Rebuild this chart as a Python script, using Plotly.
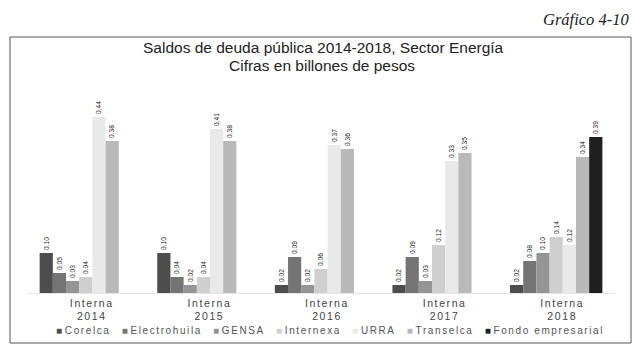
import plotly.graph_objects as go

# Data: public debt balances, energy sector (trillions of pesos)
categories = ["Interna<br>2014", "Interna<br>2015", "Interna<br>2016", "Interna<br>2017", "Interna<br>2018"]
corelca = [0.10, 0.10, 0.02, 0.02, 0.02]
electrohuila = [0.05, 0.04, 0.09, 0.09, 0.08]
gensa = [0.03, 0.02, 0.02, 0.03, 0.10]
internexa = [0.04, 0.04, 0.06, 0.12, 0.14]
urra = [0.44, 0.41, 0.37, 0.33, 0.12]
transelca = [0.38, 0.38, 0.36, 0.35, 0.34]
fondo = [None, None, None, None, 0.39]

series = [
    ("Corelca", corelca, "#4d4d4d"),
    ("Electrohuila", electrohuila, "#747474"),
    ("GENSA", gensa, "#959595"),
    ("Internexa", internexa, "#cfcfcf"),
    ("URRA", urra, "#e9e9e9"),
    ("Transelca", transelca, "#b9b9b9"),
    ("Fondo empresarial", fondo, "#1f1f1f"),
]

W, H = 634, 347
M_L, M_R, M_T, M_B = 27, 19, 80, 54
PW = W - M_L - M_R
PH = H - M_T - M_B
SPACED = "letter-spacing:1.6px"


def px_x(x):
    return (x - M_L) / PW


def px_y(y):
    return (H - M_B - y) / PH


fig = go.Figure()
for name, vals, color in series:
    fig.add_trace(go.Bar(
        name=name,
        x=categories,
        y=vals,
        marker=dict(color=color, line=dict(width=0)),
        text=[f"{v:.2f}" if v is not None else "" for v in vals],
        textposition="outside",
        textangle=-90,
        textfont=dict(family="Liberation Sans, Arial", size=10, color="#222222"),
        cliponaxis=False,
        showlegend=False,
    ))

# Category tick labels with widened letter spacing
ticktext = [
    "<br>".join(f"<span style='{SPACED}'>{part}</span>" for part in c.split("<br>"))
    for c in categories
]

fig.update_layout(
    width=W,
    height=H,
    margin=dict(l=M_L, r=M_R, t=M_T, b=M_B, autoexpand=False),
    paper_bgcolor="white",
    plot_bgcolor="white",
    barmode="group",
    bargap=0.215,
    bargroupgap=0,
    font=dict(family="Liberation Sans, Arial", color="#333333"),
    xaxis=dict(
        showgrid=False,
        zeroline=False,
        showline=True,
        linecolor="#e6e6e6",
        linewidth=1,
        ticks="",
        tickmode="array",
        tickvals=categories,
        ticktext=ticktext,
        tickfont=dict(size=10.5, color="#444444"),
        ticklabelshift=6,
    ),
    yaxis=dict(
        range=[0, PH / 400],
        visible=False,
        showgrid=False,
    ),
)

# Series key along the bottom, built from the series names and fills
key_items = [
    f"<span style='color:{color}'>■</span> <span style='{SPACED}'>{name}</span>"
    for name, _, color in series
]
fig.add_annotation(
    text="&nbsp;&nbsp;&nbsp;&nbsp;".join(key_items),
    xref="paper", yref="paper", x=px_x(330), y=px_y(330),
    xanchor="center", yanchor="middle", showarrow=False,
    font=dict(family="Liberation Sans, Arial", size=10, color="#555555"),
)

# Outer frame
fig.add_shape(
    type="rect", xref="paper", yref="paper",
    x0=px_x(10), x1=px_x(631), y0=px_y(343), y1=px_y(37),
    line=dict(color="#555555", width=1), fillcolor="rgba(0,0,0,0)", layer="below",
)

# Titles
fig.add_annotation(
    text="Saldos de deuda pública 2014-2018, Sector Energía",
    xref="paper", yref="paper", x=px_x(324), y=px_y(47),
    xanchor="center", yanchor="middle", showarrow=False,
    font=dict(family="Liberation Sans, Arial", size=15.5, color="#222222"),
)
fig.add_annotation(
    text="Cifras en billones de pesos",
    xref="paper", yref="paper", x=px_x(322), y=px_y(65),
    xanchor="center", yanchor="middle", showarrow=False,
    font=dict(family="Liberation Sans, Arial", size=15.5, color="#222222"),
)
fig.add_annotation(
    text="<i>Gráfico 4-10</i>",
    xref="paper", yref="paper", x=px_x(631), y=px_y(19),
    xanchor="right", yanchor="middle", showarrow=False,
    font=dict(family="Liberation Serif, Times New Roman", size=16.5, color="#222222"),
)

fig.write_html("out.html")
